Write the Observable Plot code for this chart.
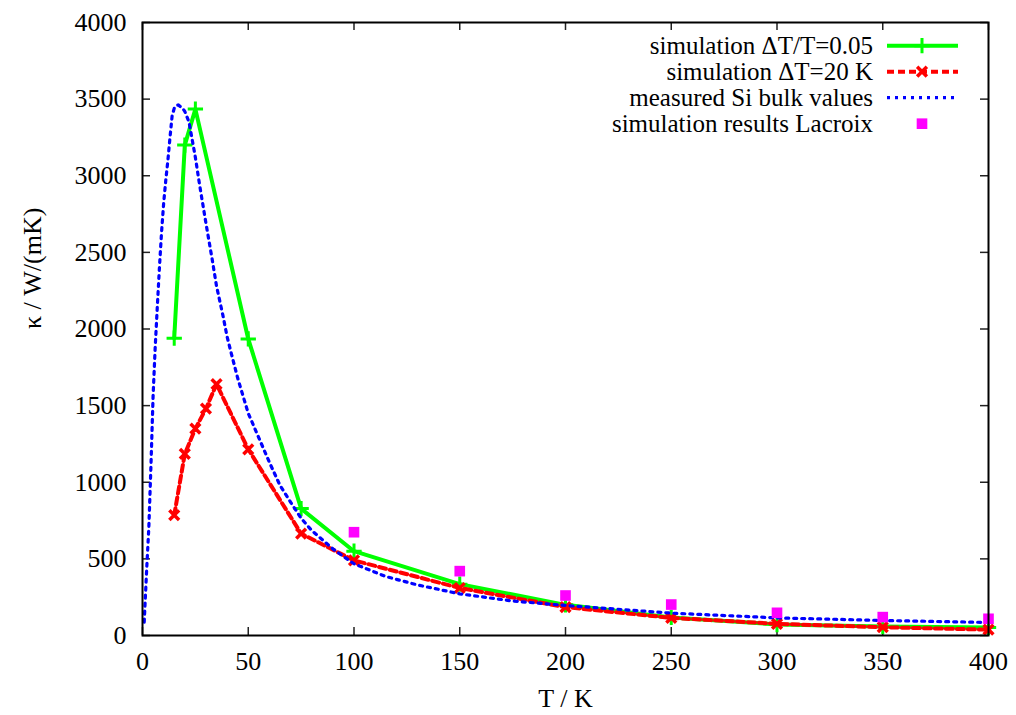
<!DOCTYPE html>
<html>
<head>
<meta charset="utf-8">
<script src="https://cdn.jsdelivr.net/npm/d3@7"></script>
<script src="https://cdn.jsdelivr.net/npm/@observablehq/plot@0.6"></script>
<style>
  html, body { margin: 0; padding: 0; background: #fff; }
  #chart { width: 1016px; height: 715px; }
</style>
</head>
<body>
<div id="chart"></div>
<script>
// ---- data ----
const xTicks = [0, 50, 100, 150, 200, 250, 300, 350, 400];
const yTicks = [0, 500, 1000, 1500, 2000, 2500, 3000, 3500, 4000];

const greenT = [15, 20, 25, 50, 75, 100, 150, 200, 250, 300, 350, 400];
const greenK = [1940, 3200, 3435, 1935, 828, 550, 335, 200, 118, 72, 58, 52];

const redT = [15, 20, 25, 30, 35, 50, 75, 100, 150, 200, 250, 300, 350, 400];
const redK = [785, 1185, 1350, 1480, 1640, 1215, 665, 490, 310, 185, 115, 76, 54, 38];

const blueT = [0.8, 2, 3, 4, 5, 6, 7, 8, 9, 10, 11, 12, 13, 14, 15, 16, 17, 18, 19, 20, 22, 25, 27, 30, 33, 35, 38, 40, 42, 45, 50, 55, 60, 65, 70, 75, 80, 90, 100, 115, 130, 150, 175, 200, 250, 300, 350, 400];
const blueK = [87, 440, 707, 1110, 1560, 1880, 2145, 2400, 2630, 2820, 2970, 3100, 3250, 3390, 3440, 3458, 3462, 3450, 3440, 3420, 3350, 3120, 2940, 2690, 2450, 2280, 2090, 1950, 1840, 1680, 1450, 1290, 1130, 980, 870, 765, 685, 565, 468, 385, 330, 272, 225, 196, 146, 115, 98, 85];

const lacroixT = [100, 150, 200, 250, 300, 350, 400];
const lacroixK = [674, 420, 261, 202, 148, 120, 109];

const legendLabels = [
  "simulation \u0394T/T=0.05",
  "simulation \u0394T=20 K",
  "measured Si bulk values",
  "simulation results Lacroix"
];
const xLabel = "T / K";
const yLabel = "\u03ba / W/(mK)";

// ---- build tables ----
const green = greenT.map((t, i) => ({T: t, k: greenK[i]}));
const red = redT.map((t, i) => ({T: t, k: redK[i]}));
const blue = blueT.map((t, i) => ({T: t, k: blueK[i]}));
const lacroix = lacroixT.map((t, i) => ({T: t, k: lacroixK[i]}));

// ---- layout ----
const W = 1016, H = 715;
const mL = 142, mR = 28, mT = 22, mB = 80;
const plotW = W - mL - mR, plotH = H - mT - mB;
const tickLen = 8;
const FONT = "Liberation Serif, Times New Roman, serif";

const GREEN = "#00ff00", RED = "#ff0000", BLUE = "#0000ff", MAGENTA = "#ff00ff";
const BLUE_DASH = "3,5";

const styles = [
  {color: GREEN, width: 4, dash: null, symbol: d3.symbolPlus, r: 5, sw: 3, fill: "none"},
  {color: RED, width: 4, dash: "7,4", symbol: d3.symbolTimes, r: 4.5, sw: 3.5, fill: "none"},
  {color: BLUE, width: 3.2, dash: BLUE_DASH, symbol: null},
  {color: MAGENTA, width: 0, dash: null, symbol: d3.symbolSquare, r: 6, sw: 0, fill: MAGENTA}
];

function legendMark() {
  return (index, scales, values, dims) => {
    const right = dims.width - dims.marginRight;
    const top = dims.marginTop;
    const g = d3.create("svg:g");
    legendLabels.forEach((label, i) => {
      const s = styles[i];
      const cy = top + 23.7 + i * 26;
      g.append("text")
        .attr("x", right - 115)
        .attr("y", cy)
        .attr("dy", "0.34em")
        .attr("text-anchor", "end")
        .attr("font-family", FONT)
        .attr("font-size", 25)
        .attr("fill", "#000")
        .text(label);
      if (s.width > 0) {
        g.append("line")
          .attr("x1", right - 101).attr("x2", right - 30)
          .attr("y1", cy).attr("y2", cy)
          .attr("stroke", s.color)
          .attr("stroke-width", s.width)
          .attr("stroke-dasharray", s.dash);
      }
      if (s.symbol) {
        g.append("path")
          .attr("transform", `translate(${right - 66},${cy})`)
          .attr("d", d3.symbol(s.symbol, s.r * s.r * Math.PI)())
          .attr("fill", s.fill)
          .attr("stroke", s.fill === "none" ? s.color : "none")
          .attr("stroke-width", s.sw);
      }
    });
    return g.node();
  };
}

const chart = Plot.plot({
  width: W,
  height: H,
  marginLeft: mL,
  marginRight: mR,
  marginTop: mT,
  marginBottom: mB,
  style: {fontFamily: FONT, fontSize: "26px", background: "#fff", color: "#000"},
  x: {domain: [0, 400]},
  y: {domain: [0, 4000]},
  marks: [
    // inward ticks on all four sides
    Plot.tickX(xTicks, {x: d => d, insetTop: plotH - tickLen, stroke: "#222", strokeWidth: 1.5}),
    Plot.tickX(xTicks, {x: d => d, insetBottom: plotH - tickLen, stroke: "#222", strokeWidth: 1.5}),
    Plot.tickY(yTicks, {y: d => d, insetRight: plotW - tickLen, stroke: "#222", strokeWidth: 1.5}),
    Plot.tickY(yTicks, {y: d => d, insetLeft: plotW - tickLen, stroke: "#222", strokeWidth: 1.5}),
    Plot.axisX({ticks: xTicks, tickSize: 0, tickPadding: 16, label: null, fontSize: 26, tickFormat: d => String(d)}),
    Plot.axisY({ticks: yTicks, tickSize: 0, tickPadding: 16, label: null, fontSize: 26, tickFormat: d => String(d)}),
    Plot.text([xLabel], {frameAnchor: "bottom", dy: 71, fontSize: 26, fill: "#000"}),
    Plot.text([yLabel], {frameAnchor: "left", dx: -110, rotate: -90, fontSize: 26, fill: "#000"}),
    // series
    Plot.line(green, {x: "T", y: "k", stroke: GREEN, strokeWidth: 4}),
    Plot.dot(green, {x: "T", y: "k", symbol: "plus", stroke: GREEN, strokeWidth: 3, r: 5}),
    Plot.line(red, {x: "T", y: "k", stroke: RED, strokeWidth: 4, strokeDasharray: "7,4"}),
    Plot.dot(red, {x: "T", y: "k", symbol: "times", stroke: RED, strokeWidth: 3.5, r: 4.5}),
    Plot.line(blue, {x: "T", y: "k", stroke: BLUE, strokeWidth: 3.2, strokeDasharray: BLUE_DASH}),
    Plot.dot(lacroix, {x: "T", y: "k", symbol: "square", fill: MAGENTA, r: 6}),
    Plot.frame({stroke: "#000", strokeWidth: 2}),
    legendMark()
  ]
});

document.getElementById("chart").appendChild(chart);
</script>
</body>
</html>
